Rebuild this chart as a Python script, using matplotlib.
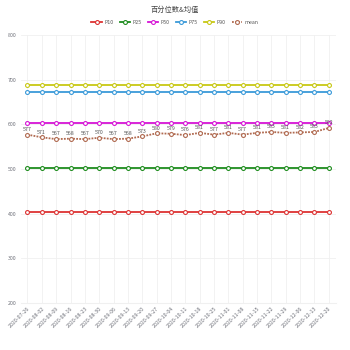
import matplotlib
matplotlib.use("Agg")
import matplotlib.pyplot as plt

plt.rcParams['font.family'] = ['Noto Sans CJK SC', 'DejaVu Sans']

dates = ["2020-07-26", "2020-08-02", "2020-08-09", "2020-08-16", "2020-08-23",
         "2020-08-30", "2020-09-06", "2020-09-13", "2020-09-20", "2020-09-27",
         "2020-10-04", "2020-10-11", "2020-10-18", "2020-10-25", "2020-11-01",
         "2020-11-08", "2020-11-15", "2020-11-22", "2020-11-29", "2020-12-06",
         "2020-12-13", "2020-12-20"]
n = len(dates)
p10 = [404] * n
p25 = [503] * n
p50 = [604] * n
p75 = [673] * n
p90 = [689] * n
mean = [577, 571, 567, 568, 567, 570, 567, 568, 573, 580, 579, 576,
        581, 577, 581, 577, 581, 583, 581, 582, 583, 592]

series = [("P10", p10, "#dd3333", "-"),
          ("P25", p25, "#1e8c1e", "-"),
          ("P50", p50, "#d614d6", "-"),
          ("P75", p75, "#3a9ad9", "-"),
          ("P90", p90, "#c8c814", "-"),
          ("mean", mean, "#b06a50", (0, (1, 0.7)))]

fig = plt.figure(figsize=(3.5, 3.5), dpi=100)
ax = fig.add_axes([0.06, 0.134, 0.9, 0.766])
x = list(range(n))
for name, vals, col, ls in series:
    ax.plot(x, vals, color=col, linestyle=ls, linewidth=1.3, marker="o",
            markersize=2.8, markerfacecolor="white", markeredgewidth=0.8,
            markeredgecolor=col, label=name, zorder=3)

for i, v in enumerate(mean):
    ax.text(i, v + 6, str(v), fontsize=3.8, color="#555555", ha="center",
            va="bottom", zorder=4)

ax.set_xlim(-0.45, n - 1 + 0.5)
ax.set_ylim(200, 800)
ax.set_yticks(range(200, 801, 100))
ax.set_xticks(x)
ax.set_xticklabels(dates, rotation=45, ha="right", rotation_mode="anchor",
                   fontsize=3.8, color="#6e7079")
ax.tick_params(axis="y", labelsize=3.8, colors="#6e7079", length=0, pad=3)
ax.tick_params(axis="x", length=0, pad=2)
ax.grid(True, color="#f0f0f0", linewidth=0.6)
ax.set_axisbelow(True)
for s in ["top", "right", "left"]:
    ax.spines[s].set_visible(False)
ax.spines["bottom"].set_color("#f0f0f0")

fig.text(0.5, 0.972, "百分位数&均值", ha="center", va="center", fontsize=5.2,
         color="#444444")
fig.legend(loc="center", bbox_to_anchor=(0.5, 0.937), ncol=6, frameon=False,
           fontsize=3.8, handlelength=2.0, columnspacing=1.2, handletextpad=0.4,
           labelcolor="#555555")

fig.savefig("out.png", dpi=100)
